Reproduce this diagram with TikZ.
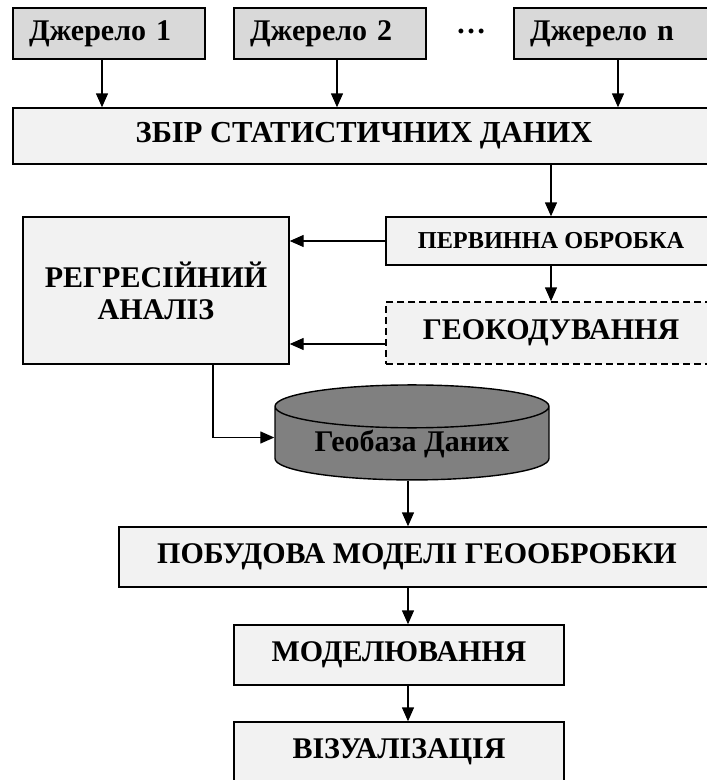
\documentclass[tikz,border=0pt]{standalone}
\usepackage{fontspec}
\setmainfont{Liberation Serif}
\usetikzlibrary{arrows.meta,positioning,shapes.geometric}
\definecolor{srcgray}{HTML}{D9D9D9}
\definecolor{boxgray}{HTML}{F2F2F2}
\definecolor{dbgray}{HTML}{808080}
\newcommand{\fs}[1]{\fontsize{#1}{#1}\selectfont\bfseries}
\begin{document}
\begin{tikzpicture}[x=1pt,y=-1pt,line width=1.4pt,every node/.style={align=center,inner sep=0pt,font=\fs{30}},box/.style={draw,fill=boxgray,minimum height=60pt},src/.style={box,fill=srcgray,minimum height=51pt,text width=160pt,inner xsep=16pt,align=left},arr/.style={-{Triangle[length=14pt,width=12pt]}}]
\useasboundingbox (0,0) rectangle (707,780);
\clip (0,0) rectangle (707,780);
\node[src] (src1) at (109,33.5) {Джерело 1};
\node[src] (src2) at (330,33.5) {Джерело 2};
\node[src,text width=164pt] (srcn) at (612,33.5) {Джерело n};
\node (dots) at (471,31) {…};
\node[box,minimum width=702pt,minimum height=56pt,font=\fs{30.5}] (zbir) at (364,136) {ЗБІР СТАТИСТИЧНИХ ДАНИХ};
\node[box,minimum width=330pt,minimum height=48pt,font=\fs{24.3}] (perv) at (551,241) {ПЕРВИННА ОБРОБКА};
\node[box,dash pattern=on 7pt off 4pt,minimum width=330pt,minimum height=62pt] (geo) at (551,333) {ГЕОКОДУВАННЯ};
\node[box,minimum width=266pt,minimum height=147pt,text depth=0pt] (reg) at (156,290.5) {РЕГРЕСІЙНИЙ\\[2pt]АНАЛІЗ};
\node[draw,cylinder,shape border rotate=90,aspect=0.22,fill=dbgray,minimum width=274pt,minimum height=95pt] (geobaza) at (412,443.5) {Геобаза Даних};
\node[box,minimum width=596pt] (pobud) at (417,557) {ПОБУДОВА МОДЕЛІ ГЕООБРОБКИ};
\node[box,minimum width=330pt] (model) at (399,655) {МОДЕЛЮВАННЯ};
\node[box,minimum width=330pt] (vis) at (399,752) {ВІЗУАЛІЗАЦІЯ};
\coordinate (axis) at (408,0);
% sources
\draw[arr] ([xshift=-7pt]src1.south) -- ([xshift=-7pt]src1.south |- zbir.north);
\draw[arr] ([xshift=7pt]src2.south) -- ([xshift=7pt]src2.south |- zbir.north);
\draw[arr] ([xshift=6pt]srcn.south) -- ([xshift=6pt]srcn.south |- zbir.north);
% processing
\draw[arr] (zbir.south -| perv) -- (perv.north);
\draw[arr] (perv.south) -- (geo.north);
\draw[arr] (perv.west) -- (perv.west -| reg.east);
\draw[arr] ([yshift=-11pt]geo.west) -- ([yshift=-11pt]geo.west -| reg.east);
\draw[arr] ([xshift=57pt]reg.south) |- ([yshift=6pt]geobaza.west);
% model chain
\draw[arr] (geobaza.south -| axis) -- (pobud.north -| axis);
\draw[arr] (pobud.south -| axis) -- (model.north -| axis);
\draw[arr] (model.south -| axis) -- (vis.north -| axis);
\end{tikzpicture}
\end{document}
